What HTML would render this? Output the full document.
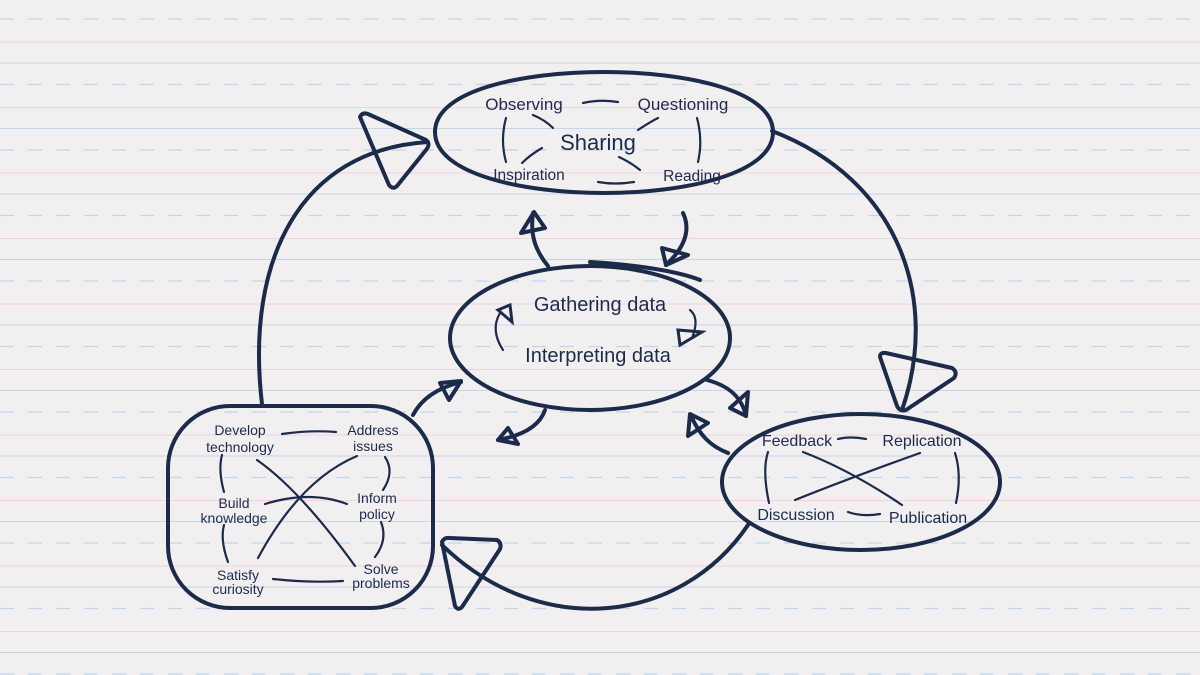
<!DOCTYPE html>
<html><head><meta charset="utf-8"><style>
html,body{margin:0;padding:0;}
body{width:1200px;height:675px;overflow:hidden;background:#f2eff1;}
svg{display:block;}
text{font-family:"Liberation Sans","DejaVu Sans",sans-serif;fill:#1c2b4a;text-anchor:middle;}
</style></head><body>
<svg width="1200" height="675" viewBox="0 0 1200 675" xmlns="http://www.w3.org/2000/svg">
<defs>
<pattern id="ruled" width="1200" height="65.5" patternUnits="userSpaceOnUse" y="0">
<line x1="0" y1="19" x2="1200" y2="19" stroke="#aecbe8" stroke-width="1.2" stroke-dasharray="14,14" opacity="0.7"/>
<line x1="0" y1="42" x2="1200" y2="42" stroke="#efc6d2" stroke-width="1" opacity="0.7"/>
<line x1="0" y1="63" x2="1200" y2="63" stroke="#b4cce6" stroke-width="1" opacity="0.7"/>
</pattern>
</defs>
<rect width="1200" height="675" fill="#f2eff1"/>
<rect width="1200" height="675" fill="url(#ruled)"/>
<g fill="none" stroke="#1c2b4a" stroke-width="4" stroke-linecap="round" stroke-linejoin="round">
<path d="M435,132 C435,90 523,72 604,72 C685,72 773,90 773,132 C773,174 685,193 604,193 C523,193 435,174 435,132 Z"/>
<ellipse cx="590" cy="338" rx="140" ry="72"/>
<path d="M590,262 C640,265 680,272 700,280" />
<ellipse cx="861" cy="482" rx="139" ry="68"/>
<rect x="168" y="406" width="265" height="202" rx="62" ry="62"/>
<path d="M262,404 C245,260 300,150 428,142"/>
<path d="M360,117 Q362,112 368,114 L426,140 Q431,144 426,150 L397,186 Q393,190 389,185 Z"/>
<path d="M772,131 C900,180 940,300 902,410"/>
<path d="M880,357 Q880,352 886,353 L952,368 Q958,372 954,378 L906,410 Q900,412 897,406 Z"/>
<path d="M748,525 C680,625 540,640 442,545"/>
<path d="M442,542 Q444,537 450,538 L497,540 Q502,543 500,549 L462,607 Q458,611 455,606 Z"/>
<path d="M548,266 C535,250 530,235 533,213"/>
<path d="M521,233 L534,212 L545,228 Z"/>
<path d="M683,213 C692,232 682,250 666,265"/>
<path d="M662,248 L666,265 L688,255 Z"/>
<path d="M413,415 C422,398 438,388 461,382"/>
<path d="M440,383 L461,381 L449,400 Z"/>
<path d="M545,410 C540,425 525,435 498,440"/>
<path d="M508,428 L498,440 L518,444 Z"/>
<path d="M707,380 C730,386 742,398 746,416"/>
<path d="M730,408 L746,416 L748,392 Z"/>
<path d="M728,453 C710,446 700,435 692,418"/>
<path d="M688,436 L690,414 L708,423 Z"/>
</g>
<g fill="none" stroke="#1c2b4a" stroke-width="2.2" stroke-linecap="round">
<path d="M583,103 Q600,99 618,102"/>
<path d="M506,118 Q500,140 506,162"/>
<path d="M697,118 Q703,140 698,162"/>
<path d="M533,115 Q545,120 553,128"/>
<path d="M658,118 Q650,122 638,130"/>
<path d="M522,163 Q530,155 542,148"/>
<path d="M619,157 Q630,162 640,170"/>
<path d="M598,182 Q615,185 634,182"/>
<path d="M500,313 Q490,330 503,350"/>
<path d="M498,310 L510,305 L512,322 Z" stroke-width="3"/>
<path d="M690,310 Q700,318 692,338"/>
<path d="M678,330 L702,332 L680,345 Z" stroke-width="3"/>
<path d="M838,439 Q850,436 866,439"/>
<path d="M768,452 Q762,470 769,503"/>
<path d="M955,453 Q962,475 956,503"/>
<path d="M803,452 Q850,470 902,505"/>
<path d="M795,500 Q850,478 920,453"/>
<path d="M848,512 Q862,517 880,514"/>
<path d="M282,434 Q310,430 336,432"/>
<path d="M222,455 Q218,470 224,492"/>
<path d="M385,457 Q395,472 383,490"/>
<path d="M224,525 Q220,540 228,562"/>
<path d="M381,522 Q388,540 375,557"/>
<path d="M273,579 Q310,583 343,581"/>
<path d="M257,460 Q300,490 355,566"/>
<path d="M258,558 Q300,480 357,456"/>
<path d="M265,504 Q310,490 347,504"/>
</g>
<g>
<text x="524" y="110" font-size="17">Observing</text>
<text x="683" y="110" font-size="17">Questioning</text>
<text x="598" y="150" font-size="22">Sharing</text>
<text x="529" y="180" font-size="15.5">Inspiration</text>
<text x="692" y="181" font-size="15.5">Reading</text>
<text x="600" y="311" font-size="20">Gathering data</text>
<text x="598" y="362" font-size="20">Interpreting data</text>
<text x="797" y="446" font-size="16">Feedback</text>
<text x="922" y="446" font-size="16">Replication</text>
<text x="796" y="520" font-size="16">Discussion</text>
<text x="928" y="523" font-size="16">Publication</text>
<text x="240" y="435" font-size="14">Develop</text>
<text x="240" y="452" font-size="14">technology</text>
<text x="373" y="435" font-size="14">Address</text>
<text x="373" y="451" font-size="14">issues</text>
<text x="234" y="508" font-size="14">Build</text>
<text x="234" y="523" font-size="14">knowledge</text>
<text x="377" y="503" font-size="14">Inform</text>
<text x="377" y="519" font-size="14">policy</text>
<text x="238" y="580" font-size="14">Satisfy</text>
<text x="238" y="594" font-size="14">curiosity</text>
<text x="381" y="574" font-size="14">Solve</text>
<text x="381" y="588" font-size="14">problems</text>
</g>
</svg>
</body></html>
